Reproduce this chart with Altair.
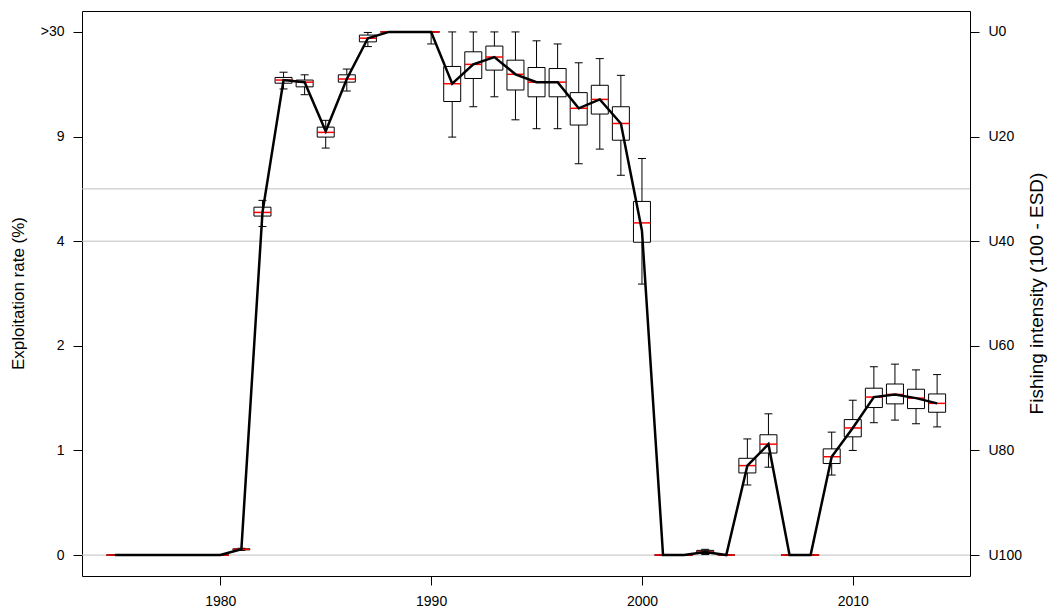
import altair as alt
import pandas as pd

years = list(range(1975, 2015))

# Box-plot statistics on the fishing-intensity scale (100 - ESD)
median = [0, 0, 0, 0, 0, 0, 1.1, 65.5, 90.8, 90.4, 80.8, 91.0, 98.8, 100, 100, 100,
          90.1, 93.8, 95.2, 91.9, 90.4, 90.4, 85.4, 87.1, 82.5, 63.5,
          0, 0, 0.6, 0, 17.1, 21.2, 0, 0, 18.8, 24.3, 30.2, 30.7, 30.0, 29.0]
q1 = [0, 0, 0, 0, 0, 0, 1.0, 64.8, 90.2, 89.5, 79.9, 90.4, 98.1, 100, 100, 100,
      86.7, 91.1, 92.7, 88.9, 87.6, 87.6, 82.2, 84.3, 79.3, 59.8,
      0, 0, 0.3, 0, 15.7, 19.5, 0, 0, 17.5, 22.6, 28.2, 28.9, 28.0, 27.3]
q3 = [0, 0, 0, 0, 0, 0, 1.2, 66.5, 91.3, 90.8, 81.8, 91.8, 99.4, 100, 100, 100,
      93.4, 96.2, 97.3, 94.6, 93.2, 93.0, 88.4, 89.8, 85.7, 67.6,
      0, 0, 0.9, 0, 18.5, 23.0, 0, 0, 20.3, 25.9, 31.9, 32.7, 31.7, 30.8]
lo = [0, 0, 0, 0, 0, 0, 0.9, 62.8, 89.1, 88.0, 77.8, 88.7, 97.2, 100, 100, 97.7,
      79.9, 85.7, 87.6, 83.2, 81.5, 81.5, 74.8, 77.6, 72.6, 51.8,
      0, 0, 0.1, 0, 13.4, 16.8, 0, 0, 15.3, 20.0, 25.3, 25.8, 25.1, 24.5]
hi = [0, 0, 0, 0, 0, 0, 1.3, 67.8, 92.3, 91.8, 83.1, 92.9, 99.9, 100, 100, 100,
      100, 100, 100, 100, 98.3, 97.7, 94.1, 94.9, 91.7, 75.8,
      0, 0, 1.1, 0, 22.2, 27.0, 0, 0, 23.5, 29.6, 36.0, 36.5, 35.4, 34.5]
estimate = [0, 0, 0, 0, 0, 0, 1.1, 65.5, 90.8, 90.4, 81.0, 91.0, 98.8, 100, 100, 100,
            90.1, 93.8, 95.2, 91.9, 90.4, 90.4, 85.4, 87.1, 82.5, 62.0,
            0, 0, 0.6, 0, 17.1, 21.2, 0, 0, 18.8, 24.3, 30.2, 30.7, 30.0, 29.0]

ref_lines = [0, 60, 70]
x_ticks = [1980, 1990, 2000, 2010]
y_ticks = [0, 20, 40, 60, 80, 100]
y_left_labels = ["0", "1", "2", "4", "9", ">30"]

df = pd.DataFrame({"year": years, "med": median, "q1": q1, "q3": q3,
                   "lo": lo, "hi": hi, "est": estimate})
ref_df = pd.DataFrame({"v": ref_lines})
tick_df = pd.DataFrame({"v": y_ticks})

FONT = "Liberation Sans"
FS = 14

xscale = alt.Scale(domain=[1973.44, 2015.56], nice=False, zero=False)
yscale = alt.Scale(domain=[-4, 104], nice=False, zero=False)

left_expr = " : ".join(
    [f"datum.value == {v} ? '{l}'" for v, l in zip(y_ticks[:-1], y_left_labels[:-1])]
) + f" : '{y_left_labels[-1]}'"

x_axis = alt.Axis(values=x_ticks, format="d", grid=False, domain=False,
                  tickSize=9, tickColor="black", labelPadding=9,
                  labelFontSize=FS, labelFont=FONT, labelColor="black", title=None)
left_axis = alt.Axis(orient="left", values=y_ticks, labelExpr=left_expr, grid=False,
                     domain=False, tickSize=9, tickColor="black", labelPadding=9,
                     labelFontSize=FS, labelFont=FONT, labelColor="black",
                     title="Exploitation rate (%)", titleFont=FONT, titleFontSize=17,
                     titleFontWeight="normal", titleColor="black", titleX=-64,
                     titleY=282, titleAngle=270, titleAlign="center",
                     titleBaseline="middle")
right_axis = alt.Axis(orient="right", values=y_ticks,
                      labelExpr="'U' + (100 - datum.value)", grid=False,
                      domain=False, tickSize=9, tickColor="black", labelPadding=9,
                      labelFontSize=FS, labelFont=FONT, labelColor="black",
                      title="Fishing intensity (100 - ESD)", titleFont=FONT,
                      titleFontSize=19, titleFontWeight="normal", titleColor="black",
                      titleX=66, titleY=282, titleAngle=270, titleAlign="center",
                      titleBaseline="middle")

X = alt.X("year:Q", scale=xscale, axis=x_axis)

base = alt.Chart(df)

hlines = alt.Chart(ref_df).mark_rule(color="#c0c0c0", strokeWidth=1).encode(
    y=alt.Y("v:Q", scale=yscale, axis=None))

whisk = base.mark_rule(color="black", strokeWidth=1).encode(
    x=X, y=alt.Y("lo:Q", scale=yscale, axis=left_axis), y2="hi:Q")

cap_lo = base.mark_rule(color="black", strokeWidth=1, xOffset=-4, x2Offset=4).encode(
    x=X, x2="year:Q", y=alt.Y("lo:Q", scale=yscale, axis=None))
cap_hi = base.mark_rule(color="black", strokeWidth=1, xOffset=-4, x2Offset=4).encode(
    x=X, x2="year:Q", y=alt.Y("hi:Q", scale=yscale, axis=None))

boxes = base.mark_rect(fill="white", stroke="black", strokeWidth=1,
                       xOffset=-8.5, x2Offset=8.5).encode(
    x=X, x2="year:Q", y=alt.Y("q1:Q", scale=yscale, axis=None), y2="q3:Q")

meds = base.mark_rule(color="red", strokeWidth=1.5, xOffset=-8.5, x2Offset=8.5).encode(
    x=X, x2="year:Q", y=alt.Y("med:Q", scale=yscale, axis=None))

line = base.mark_line(color="black", strokeWidth=2.5).encode(
    x=X, y=alt.Y("est:Q", scale=yscale, axis=None))

right = alt.Chart(tick_df).mark_point(opacity=0).encode(
    y=alt.Y("v:Q", scale=yscale, axis=right_axis))

chart = alt.layer(hlines, whisk, cap_lo, cap_hi, boxes, meds, line, right).resolve_scale(
    y="independent"
).properties(
    width=888, height=565,
    autosize=alt.AutoSizeParams(type="none"),
    padding={"left": 82, "top": 11, "right": 79, "bottom": 39},
    background="white",
).configure_view(stroke="black", strokeWidth=1)

chart.save("out.html", embed_options={"renderer": "svg", "actions": False})
